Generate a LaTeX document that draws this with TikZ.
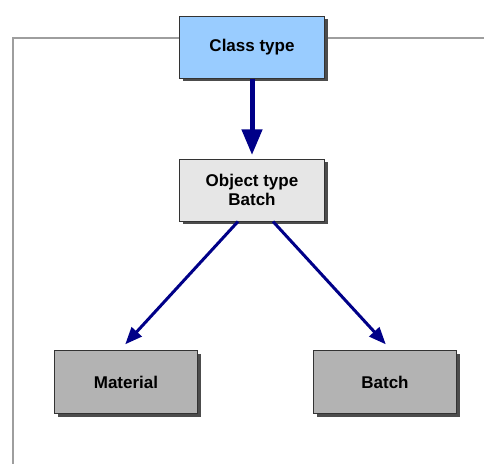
\documentclass[tikz,border=0pt]{standalone}
\usepackage{fontspec}
\setmainfont{Liberation Sans}
\usepackage{tikz}
\usetikzlibrary{shapes,arrows}
\usetikzlibrary{positioning}
\usetikzlibrary{shadows}
\definecolor{classblue}{HTML}{99CCFF}
\definecolor{objgray}{HTML}{E6E6E6}
\definecolor{leafgray}{HTML}{B3B3B3}
\definecolor{arrowblue}{HTML}{000088}
\tikzstyle{box} = [rectangle, draw=black!80, line width=1pt, text centered,
    minimum width=145pt, minimum height=62pt, font=\fontsize{17}{19}\selectfont\bfseries,
    drop shadow={shadow xshift=3pt, shadow yshift=-3pt, fill=black!70, opacity=1}]
\tikzstyle{classbox} = [box, fill=classblue]
\tikzstyle{objbox} = [box, fill=objgray, align=center]
\tikzstyle{leafbox} = [box, fill=leafgray, minimum width=143pt, minimum height=63pt]
\tikzstyle{line} = [draw, arrowblue, line width=3pt, -triangle 45]
\tikzstyle{frame} = [draw, black!38, line width=2pt]

\begin{document}
\begin{tikzpicture}[x=1pt, y=-1pt, node distance=143pt]
  \useasboundingbox (0,0) rectangle (484,464);
  % Frame behind the boxes
  \path [frame] (484,38) -- (13,38) -- (13,464);

  % Place nodes
  \node [classbox] (class) at (252,47) {Class type};
  \node [objbox, below of=class] (object) {Object type\\Batch};
  \node [leafbox] (material) at (126,382) {Material};
  \node [leafbox, right of=material, node distance=259pt] (batch) {Batch};

  % Draw edges
  \path [line, line width=5pt, shorten >=4pt] (class) -- (object);
  \path [line, shorten >=8pt] ([xshift=-14pt]object.south) -- ([xshift=-6pt]material.north);
  \path [line, shorten >=8pt] ([xshift=21pt]object.south) -- ([xshift=6pt]batch.north);
\end{tikzpicture}
\end{document}
